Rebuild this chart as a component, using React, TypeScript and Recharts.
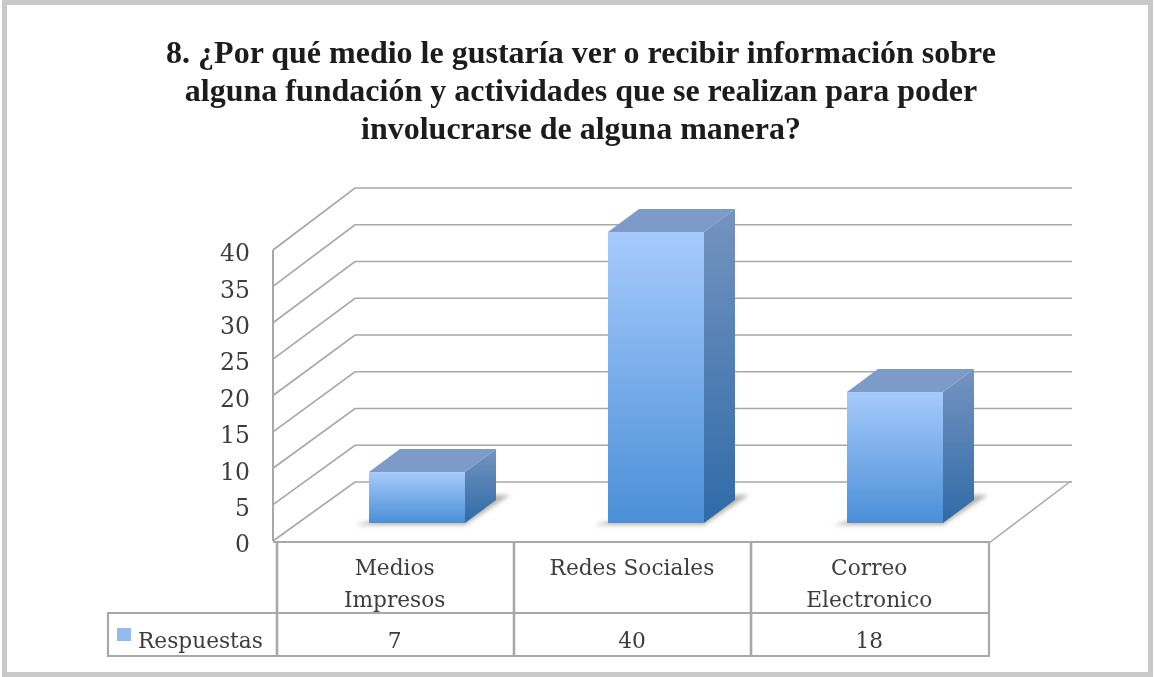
import React from "react";
import { ComposedChart, Bar, XAxis, YAxis, CartesianGrid } from "recharts";

const categories = ["Medios\nImpresos", "Redes Sociales", "Correo\nElectronico"];
const respuestas = [7, 40, 18];
const seriesName = "Respuestas";
const yTicks = [0, 5, 10, 15, 20, 25, 30, 35, 40];
const titleLines = [
  "8. ¿Por qué medio le gustaría ver o recibir información sobre",
  "alguna fundación y actividades que se realizan para poder",
  "involucrarse de alguna manera?",
];

const rows = categories.map((c, i) => ({ category: c, value: respuestas[i] }));

const W = 1155;
const H = 677;
const LINE = "#a8a8a8";
const TEXT = "#3d3d3d";
const SERIF = "'Liberation Serif', serif";
const BODY = "'DejaVu Serif', serif";

const GridLine = (p: any) => {
  const dy = 59 + ((541 - p.y1) * 3) / 291;
  return (
    <polyline
      points={`${p.x1 - 4},${p.y1} ${p.x1 + 78},${p.y1 - dy} ${p.x2 + 78},${p.y1 - dy}`}
      fill="none"
      stroke={LINE}
      strokeWidth={1.7}
    />
  );
};

const Bar3D = (p: any) => {
  const dx = 20;
  const dy = -18;
  const x = p.x + dx;
  const y = p.y + dy;
  const w = p.width;
  const h = p.height;
  const sx = 31;
  const sy = -23;
  return (
    <g>
      <polygon
        points={`${x - 14},${y + h + 2} ${x + w},${y + h + 2} ${x + w + sx + 14},${y + h + sy - 5} ${x + w + sx - 6},${y + h + sy - 5} ${x + 10},${y + h - 4}`}
        fill="#b9b5ae"
        filter="url(#soft)"
      />
      <polygon
        points={`${x + w},${y} ${x + w + sx},${y + sy} ${x + w + sx},${y + h + sy} ${x + w},${y + h}`}
        fill="url(#sideGrad)"
      />
      <polygon
        points={`${x},${y} ${x + sx},${y + sy} ${x + w + sx},${y + sy} ${x + w},${y}`}
        fill="#7c9bc8"
      />
      <rect x={x} y={y} width={w} height={h} fill="url(#frontGrad)" />
    </g>
  );
};

const TableTick = (p: any) => {
  const i = p.index;
  const lines = String(p.payload.value).split("\n");
  const cx = 277 + 237.3 * (i + 0.5) - 1;
  return (
    <g fontFamily={BODY} fontSize={21.7} fill={TEXT} textAnchor="middle">
      {lines.map((l, k) => (
        <text key={k} x={cx} y={575 + k * 32}>{l}</text>
      ))}
      <text x={cx} y={648}>{respuestas[i]}</text>
    </g>
  );
};

const Chrome = () => (
  <g>
    <defs>
      <linearGradient id="frontGrad" x1="0" y1="0" x2="0" y2="1">
        <stop offset="0" stopColor="#a7cafc" />
        <stop offset="1" stopColor="#4a8fd7" />
      </linearGradient>
      <linearGradient id="sideGrad" x1="0" y1="0" x2="0" y2="1">
        <stop offset="0" stopColor="#7593bf" />
        <stop offset="1" stopColor="#2f6ba8" />
      </linearGradient>
      <filter id="soft" x="-20%" y="-50%" width="140%" height="200%">
        <feGaussianBlur stdDeviation="2.2" />
      </filter>
    </defs>
    {titleLines.map((t, i) => (
      <text
        key={i}
        x={581}
        y={63 + i * 38}
        textAnchor="middle"
        fontFamily={SERIF}
        fontWeight="bold"
        fontSize={32}
        fill="#1c1c1c"
      >
        {t}
      </text>
    ))}
  </g>
);

const TableFrame = () => (
  <g stroke={LINE} fill="none">
    <line x1={273} y1={250} x2={273} y2={541} strokeWidth={2} />
    <line x1={989} y1={543} x2={1071} y2={481} strokeWidth={1.5} />
    <path d="M273 542 H989 V656 H108 V613 H989" strokeWidth={2.2} />
    {[277, 514, 751].map((x) => (
      <line key={x} x1={x} y1={542} x2={x} y2={656} strokeWidth={2.6} />
    ))}
    <rect x={117} y={628} width={14} height={13} fill="#93bbee" stroke="none" />
    <text x={138} y={648} fontFamily={BODY} fontSize={21.7} fill={TEXT} stroke="none">
      {seriesName}
    </text>
  </g>
);

export default function App() {
  return (
    <div
      style={{
        position: "absolute",
        left: 0,
        top: 0,
        width: W,
        height: H,
        boxSizing: "border-box",
        background: "#ffffff",
        filter: "blur(0.7px)",
      }}
    >
      <div
        style={{
          position: "absolute",
          left: 2,
          top: 0,
          right: 2,
          bottom: 0,
          boxSizing: "border-box",
          border: "5px solid #c9c9c9",
        }}
      />
      <div style={{ position: "absolute", left: 0, top: 0 }}>
        <ComposedChart
          width={W}
          height={H}
          data={rows}
          margin={{ top: 250, right: 161, bottom: 6, left: 217 }}
          barCategoryGap={0}
        >
          <Chrome />
          <CartesianGrid horizontal={GridLine} vertical={false} />
          <XAxis
            dataKey="category"
            height={130}
            axisLine={false}
            tickLine={false}
            tick={TableTick}
            interval={0}
          />
          <YAxis
            width={60}
            domain={[0, 40]}
            ticks={yTicks}
            axisLine={false}
            tickLine={false}
            tickSize={0}
            tickMargin={27}
            tick={{ fontFamily: BODY, fontSize: 23.5, fill: TEXT, dy: 3 }}
          />
          <TableFrame />
          <Bar
            dataKey="value"
            name={seriesName}
            barSize={96}
            fill="url(#frontGrad)"
            shape={Bar3D}
            isAnimationActive={false}
          />
        </ComposedChart>
      </div>
    </div>
  );
}
